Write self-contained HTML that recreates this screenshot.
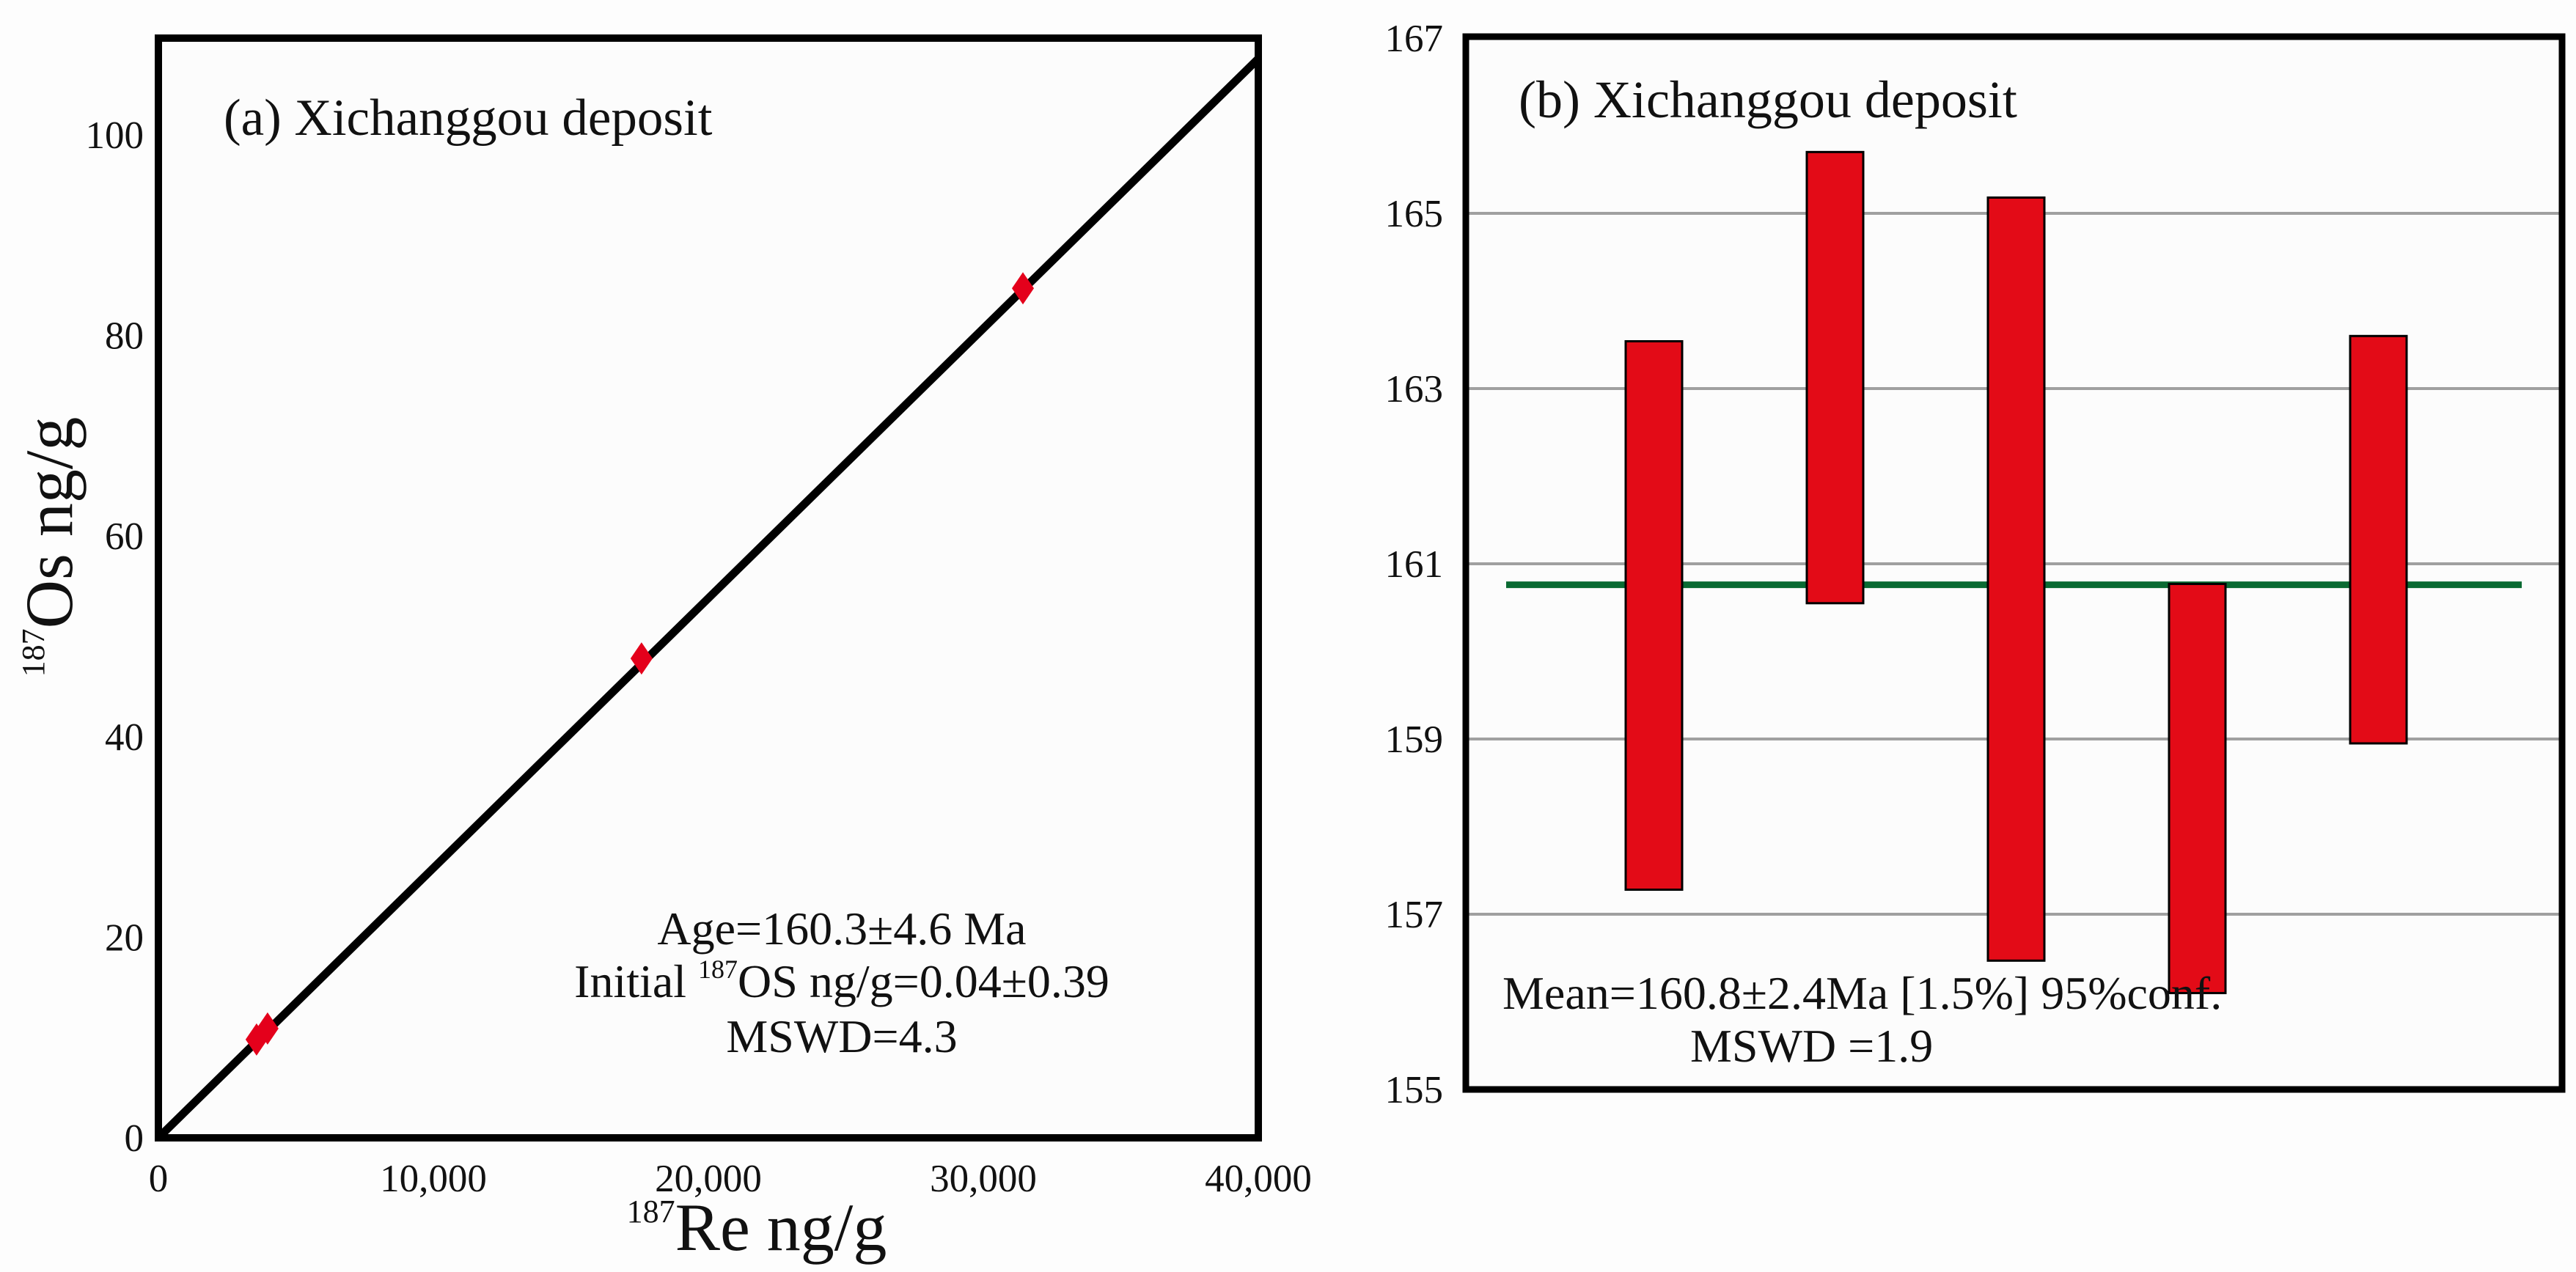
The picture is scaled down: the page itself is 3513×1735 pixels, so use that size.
<!DOCTYPE html>
<html><head><meta charset="utf-8"><style>
html,body{margin:0;padding:0;background:#fff}
svg{display:block;font-family:"Liberation Serif",serif}
</style></head><body>
<svg id="c" width="3513" height="1735" viewBox="0 0 3513 1735" xmlns="http://www.w3.org/2000/svg">
<rect x="0" y="0" width="3513" height="1735" fill="#fdfdfd"/>
<g id="pa"></g>
<g id="pb"></g>
</svg>
<script>
// Panel A data
const reVals = [3570, 3970, 17570, 31440];
const osVals = [9.8, 10.9, 47.8, 84.7];
const lineSlope = [0.00269];
const xTicks = [0, 10000, 20000, 30000, 40000];
const xTickLabels = ["0", "10,000", "20,000", "30,000", "40,000"];
const yTicks = [0, 20, 40, 60, 80, 100];
// Panel B data
const barTops = [163.54, 165.70, 165.18, 160.77, 163.6];
const barBottoms = [157.28, 160.55, 156.47, 156.1, 158.95];
const meanAge = [160.76];
const bTicks = [155, 157, 159, 161, 163, 165, 167];

const NS = "http://www.w3.org/2000/svg";
function mk(parent, tag, attrs, text){
  const e = document.createElementNS(NS, tag);
  for (const k in attrs) e.setAttribute(k, attrs[k]);
  if (text !== undefined) e.textContent = text;
  parent.appendChild(e);
  return e;
}
// ---------- Panel A ----------
const pa = document.getElementById('pa');
const ax = v => 216 + v / 40000 * 1500;
const ay = v => 1552 - v * 13.68;
const clipA = mk(pa, 'clipPath', {id:'clipA'});
mk(clipA, 'rect', {x:216, y:52, width:1500, height:1500});
let e;
e = mk(pa, 'rect', {x:216, y:52, width:1500, height:1500, fill:'#fcfcfc'});


const yEnd = lineSlope[0] * 40000;
e = mk(pa, 'line', {x1:ax(0), y1:ay(0), x2:ax(40000), y2:ay(yEnd), stroke:'#000', 'stroke-width':11, 'clip-path':'url(#clipA)'});


reVals.forEach((r, i) => {
  const x = ax(r), y = ay(osVals[i]);
  const p = mk(pa, 'polygon', {points:`${x},${y-22} ${x+15},${y} ${x},${y+22} ${x-15},${y}`, fill:'#e4001b'});
  
  
});
e = mk(pa, 'rect', {x:216, y:52, width:1500, height:1500, fill:'none', stroke:'#000', 'stroke-width':10});


xTicks.forEach((t, i) => {
  const tx = mk(pa, 'text', {x:ax(t), y:1625, 'font-size':53, 'text-anchor':'middle', fill:'#111'}, xTickLabels[i]);
  
  
});
yTicks.forEach(t => {
  const tx = mk(pa, 'text', {x:196, y:ay(t)+18, 'font-size':53, 'text-anchor':'end', fill:'#111'}, String(t));
  
  
});
e = mk(pa, 'text', {x:305, y:184, 'font-size':71, fill:'#111'}, '(a) Xichanggou deposit');


e = mk(pa, 'text', {x:1032, y:1705, 'font-size':92, 'text-anchor':'middle', fill:'#111'});


mk(e, 'tspan', {'font-size':44, dy:-38}, '187');
mk(e, 'tspan', {dy:38}, 'Re  ng/g');
e = mk(pa, 'text', {x:0, y:0, 'font-size':92, 'text-anchor':'middle', fill:'#111', transform:'translate(98,746) rotate(-90)'});


mk(e, 'tspan', {'font-size':44, dy:-38}, '187');
mk(e, 'tspan', {dy:38}, 'Os  ng/g');
const annA = [
  {t:'Age=160.3\u00b14.6 Ma', y:1288},
  {t:null, y:1360},
  {t:'MSWD=4.3', y:1435}
];
annA.forEach(a => {
  const tx = mk(pa, 'text', {x:1148, y:a.y, 'font-size':64, 'text-anchor':'middle', fill:'#111'});
  
  
  if (a.t) tx.textContent = a.t;
  else {
    mk(tx, 'tspan', {}, 'Initial ');
    mk(tx, 'tspan', {'font-size':36, dy:-26}, '187');
    mk(tx, 'tspan', {dy:26}, 'OS ng/g=0.04\u00b10.39');
  }
});
// ---------- Panel B ----------
const pb = document.getElementById('pb');
const by = v => 1486 - (v - 155) * 119.5;
const bx = i => 2255 + i * 247;
e = mk(pb, 'rect', {x:1999, y:50, width:1495, height:1436, fill:'#fcfcfc'});


bTicks.forEach(t => {
  if (t > 155 && t < 167) {
    const g = mk(pb, 'line', {x1:1999, x2:3494, y1:by(t), y2:by(t), stroke:'#a0a0a0', 'stroke-width':4});
    
    
  }
  const tx = mk(pb, 'text', {x:1968, y:by(t)+18, 'font-size':53, 'text-anchor':'end', fill:'#111'}, String(t));
  
  
});
e = mk(pb, 'line', {x1:2054, x2:3439, y1:by(meanAge[0]), y2:by(meanAge[0]), stroke:'#0a6a32', 'stroke-width':9});


barTops.forEach((t, i) => {
  const r = mk(pb, 'rect', {x:bx(i)-38, y:by(t), width:77, height:by(barBottoms[i])-by(t), fill:'#e30b17', stroke:'#000', 'stroke-width':3});
  
  
});
e = mk(pb, 'rect', {x:1999, y:50, width:1495, height:1436, fill:'none', stroke:'#000', 'stroke-width':9});


e = mk(pb, 'text', {x:2071, y:160, 'font-size':72, fill:'#111'}, '(b) Xichanggou deposit');


e = mk(pb, 'text', {x:2049, y:1376, 'font-size':64, fill:'#111'}, 'Mean=160.8\u00b12.4Ma  [1.5%] 95%conf.');


e = mk(pb, 'text', {x:2305, y:1448, 'font-size':64, fill:'#111'}, 'MSWD =1.9');


</script>
</body></html>
